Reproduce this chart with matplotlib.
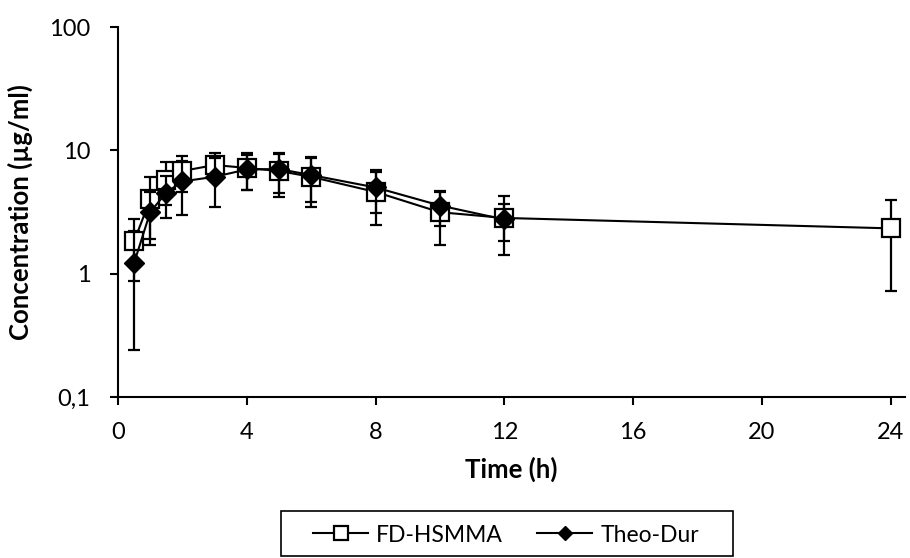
import matplotlib
matplotlib.use("Agg")
import matplotlib.pyplot as plt
from matplotlib.patches import Rectangle
from matplotlib.ticker import FixedLocator, FixedFormatter, NullLocator

plt.rcParams["font.family"] = ["Lato", "DejaVu Sans"]

# ---- data ----
fd_time = [0.5, 1, 1.5, 2, 3, 4, 5, 6, 8, 10, 12, 24]
fd_conc = [1.83, 4.0, 5.8, 6.8, 7.6, 7.2, 6.8, 6.1, 4.6, 3.15, 2.83, 2.33]
fd_sd = [0.96, 2.1, 2.2, 2.2, 2.0, 2.4, 2.6, 2.6, 2.1, 1.45, 1.4, 1.6]

td_time = [0.5, 1, 1.5, 2, 3, 4, 5, 6, 8, 10, 12]
td_conc = [1.22, 3.15, 4.55, 5.6, 6.1, 7.0, 7.05, 6.3, 5.0, 3.57, 2.75]
td_sd = [0.98, 1.45, 1.7, 2.6, 2.6, 2.2, 2.5, 2.5, 1.9, 1.13, 0.9]

y_ticks = [0.1, 1, 10, 100]
y_tick_labels = ["0,1", "1", "10", "100"]
x_ticks = [0, 4, 8, 12, 16, 20, 24]

W, H = 910, 558
fig = plt.figure(figsize=(W / 100, H / 100), dpi=100)
ax = fig.add_axes([118 / W, 1 - 397 / H, (905 - 118) / W, (397 - 27) / H])

eb_fd = ax.errorbar(fd_time, fd_conc, yerr=fd_sd, color="black", lw=1.5,
                    marker="s", ms=13, mfc="white", mec="black", mew=1.6,
                    ecolor="black", elinewidth=1.6, capsize=4.5, capthick=1.6,
                    zorder=3)
eb_td = ax.errorbar(td_time, td_conc, yerr=td_sd, color="black", lw=1.5,
                    marker="D", ms=10, mfc="black", mec="black",
                    ecolor="black", elinewidth=1.6, capsize=4.5, capthick=1.6,
                    zorder=4)

ax.set_yscale("log")
ax.set_ylim(0.1, 100)
ax.set_xlim(0, 24.45)
ax.yaxis.set_major_locator(FixedLocator(y_ticks))
ax.yaxis.set_major_formatter(FixedFormatter(y_tick_labels))
ax.yaxis.set_minor_locator(NullLocator())
ax.set_xticks(x_ticks)

for s in ["top", "right"]:
    ax.spines[s].set_visible(False)
for s in ["left", "bottom"]:
    ax.spines[s].set_linewidth(1.5)
ax.tick_params(direction="out", length=5.8, width=1.5, labelsize=17)
ax.tick_params(axis="x", pad=12)
ax.tick_params(axis="y", pad=14)

ax.set_xlabel("Time (h)", fontsize=18.5, fontweight="bold", labelpad=10)
ax.set_ylabel("Concentration (µg/ml)", fontsize=18.5, fontweight="bold", labelpad=12)

# legend: entries from the plotted lines, box drawn separately
leg = fig.legend([eb_fd[0], eb_td[0]], ["FD-HSMMA", "Theo-Dur"],
                 loc="center", bbox_to_anchor=(506 / W, 1 - 535 / H),
                 ncol=2, fontsize=16.5, frameon=False, borderpad=0.0,
                 handlelength=2.4, handletextpad=0.35, columnspacing=1.5,
                 markerscale=0.75)
fig.patches.append(Rectangle((281 / W, 1 - 556 / H), (733 - 281) / W, (556 - 511) / H,
                             transform=fig.transFigure, fill=False,
                             edgecolor="black", linewidth=1.2))

fig.savefig("out.png", dpi=100)
